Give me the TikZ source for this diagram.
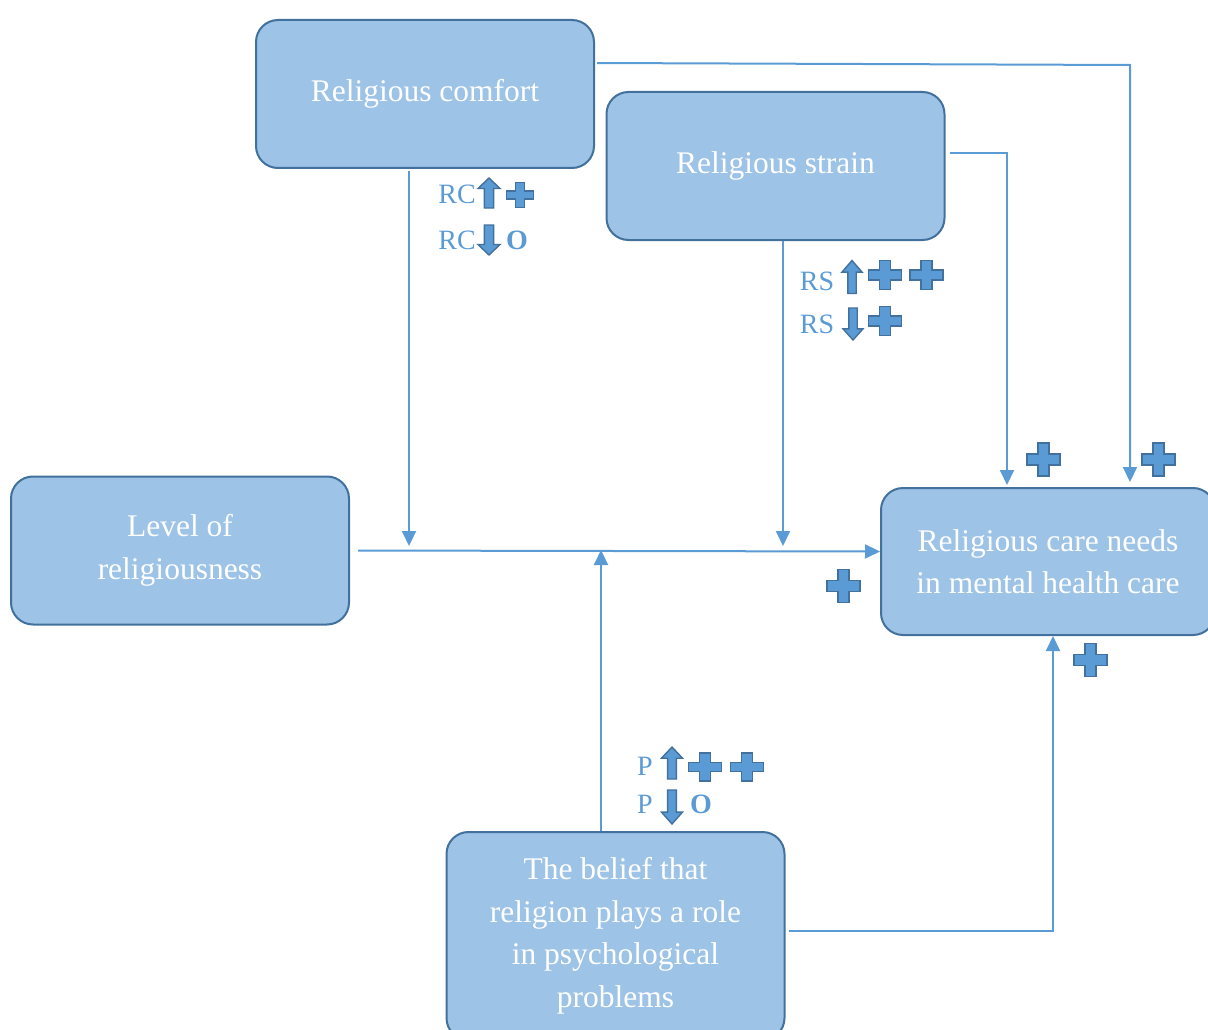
\documentclass[tikz,border=0pt]{standalone}
\usepackage{fontspec}
\setmainfont{Liberation Serif}
\usetikzlibrary{arrows.meta}
\definecolor{boxfill}{HTML}{9DC3E6}
\definecolor{boxline}{HTML}{41719C}
\definecolor{linkblue}{HTML}{5B9BD5}
\tikzset{
  factor/.style={draw=boxline, line width=2pt, fill=boxfill, rounded corners=22pt,
    text=white, align=center, inner sep=0pt, minimum width=338pt, minimum height=148pt,
    font=\fontsize{31.5}{42.5}\selectfont},
  link/.style={draw=linkblue, line width=2pt, -{Triangle[length=15pt,width=14pt]}},
  mark text/.style={text=linkblue, inner sep=0pt, font=\fontsize{28}{28}\selectfont},
  none mark/.style={mark text, font=\bfseries\fontsize{28}{28}\selectfont},
  pics/plusmark/.style={code={
    \draw[boxline, fill=linkblue, line width=1.6pt, line join=miter]
      (-0.33,-1) -- (0.33,-1) -- (0.33,-0.33) -- (1,-0.33) -- (1,0.33) -- (0.33,0.33)
      -- (0.33,1) -- (-0.33,1) -- (-0.33,0.33) -- (-1,0.33) -- (-1,-0.33) -- (-0.33,-0.33) -- cycle;
  }},
  pics/blockarrow/.style={code={
    \draw[boxline, fill=linkblue, line width=1.4pt, line join=miter]
      (0,-1) -- (1,-0.3) -- (0.42,-0.3) -- (0.42,1) -- (-0.42,1) -- (-0.42,-0.3) -- (-1,-0.3) -- cycle;
  }},
}
\begin{document}
\begin{tikzpicture}[x=1pt,y=-1pt]
\useasboundingbox (0,0) rectangle (1208,1030);
\clip (0,0) rectangle (1208,1030);
% the five factors
\node[factor] (comfort) at (425,94) {Religious comfort};
\node[factor] (strain) at (775.5,166) {Religious strain};
\node[factor] (level) at (180,550.5) {Level of\\religiousness};
\node[factor, minimum width=334pt, minimum height=147pt] (care) at (1048,561.5) {Religious care needs\\in mental health care};
\node[factor, minimum height=208pt] (belief) at (615.5,936) {The belief that\\religion plays a role\\in psychological\\problems};
% turning points and arrow ends
\coordinate (rcTurn) at (1130,65);
\coordinate (rsTurn) at (1007,153);
\coordinate (pTurn) at (1053,931);
\coordinate (rcTip) at (409,546);
\coordinate (rsTip) at (783,546);
\coordinate (pTip) at (601,550);
% connectors
\draw[link, shorten <=2pt, shorten >=5pt] ([yshift=31pt]comfort.east) -- (rcTurn) -- (rcTurn |- care.north);
\draw[link, shorten <=4pt, shorten >=2pt] ([yshift=13pt]strain.east) -- (rsTurn) -- (rsTurn |- care.north);
\draw[link, shorten <=8pt] (level.east) -- ([yshift=10pt]care.west);
\draw[link, shorten <=2pt] ([xshift=-16pt]comfort.south) -- (rcTip);
\draw[link] ([xshift=7.5pt]strain.south) -- (rsTip);
\draw[link] ([xshift=-14.5pt]belief.north) -- (pTip);
\draw[link, shorten <=3pt] ([yshift=5pt]belief.east) -- (pTurn) -- (pTurn |- care.south);
% effect marks: religious comfort
\node[mark text] (rcHigh) at (457,194) {RC};
\pic[xscale=11,yscale=15] at (489,193) {blockarrow};
\pic[xscale=13.5,yscale=12.5] at (520,195) {plusmark};
\node[mark text] (rcLow) at (457,240) {RC};
\pic[xscale=11,yscale=-15] at (489,240) {blockarrow};
\node[none mark] (rcNone) at (517,240) {O};
% effect marks: religious strain
\node[mark text] (rsHigh) at (817,281) {RS};
\pic[xscale=10,yscale=16.5] at (852,277) {blockarrow};
\pic[xscale=16.5,yscale=14.5] at (885,275) {plusmark};
\pic[xscale=16.5,yscale=14.5] at (926.5,275) {plusmark};
\node[mark text] (rsLow) at (817,324) {RS};
\pic[xscale=10,yscale=-16] at (853,324) {blockarrow};
\pic[xscale=16.5,yscale=14.5] at (885,321) {plusmark};
% effect marks: belief
\node[mark text] (pHigh) at (645,766) {P};
\pic[xscale=10.5,yscale=16] at (672,763) {blockarrow};
\pic[xscale=16.5,yscale=14] at (705,767) {plusmark};
\pic[xscale=16.5,yscale=14] at (747,767) {plusmark};
\node[mark text] (pLow) at (645,804) {P};
\pic[xscale=10.5,yscale=-17] at (672,807) {blockarrow};
\node[none mark] (pNone) at (701,804) {O};
% marks at the outcome
\pic[xscale=16.5,yscale=16.5] at (1043.5,459.5) {plusmark};
\pic[xscale=16.5,yscale=16.5] at (1158.5,459.5) {plusmark};
\pic[xscale=16.5,yscale=16.5] at (843.5,586) {plusmark};
\pic[xscale=16.5,yscale=16.5] at (1090.5,660) {plusmark};
\end{tikzpicture}
\end{document}
